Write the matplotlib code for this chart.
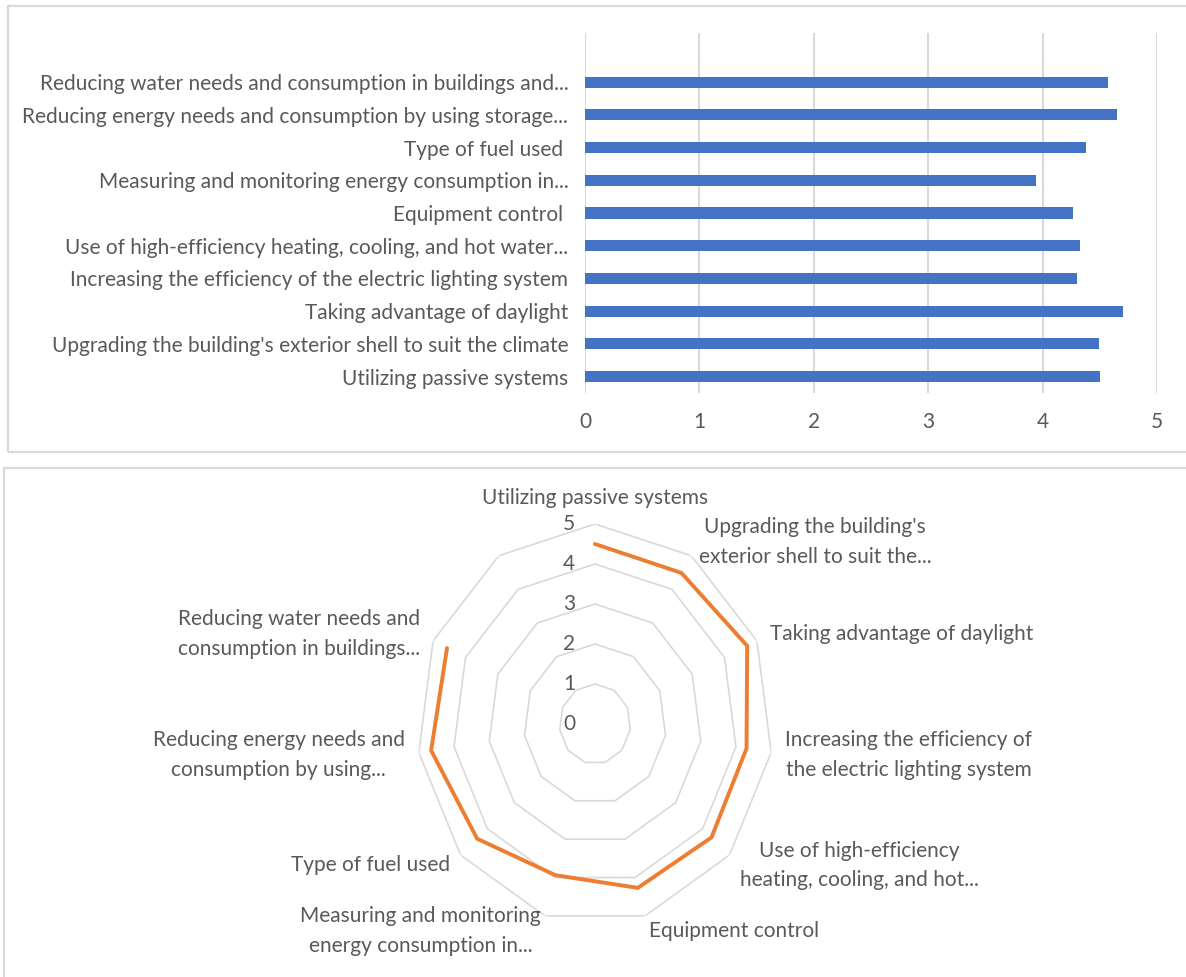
import numpy as np
import matplotlib
matplotlib.use("Agg")
import matplotlib.pyplot as plt
from matplotlib.patches import Rectangle

plt.rcParams['font.family'] = ['Lato', 'DejaVu Sans']

# data (the 11th category is blank in the source sheet)
categories = [
    "Utilizing passive systems",
    "Upgrading the building's exterior shell to suit the climate",
    "Taking advantage of daylight",
    "Increasing the efficiency of the electric lighting system",
    "Use of high-efficiency heating, cooling, and hot water...",
    "Equipment control ",
    "Measuring and monitoring energy consumption in...",
    "Type of fuel used ",
    "Reducing energy needs and consumption by using storage...",
    "Reducing water needs and consumption in buildings and...",
    "",
]
radar_labels = [
    "Utilizing passive systems",
    "Upgrading the building's\nexterior shell to suit the...",
    "Taking advantage of daylight",
    "Increasing the efficiency of\nthe electric lighting system",
    "Use of high-efficiency\nheating, cooling, and hot...",
    "Equipment control",
    "Measuring and monitoring\nenergy consumption in...",
    "Type of fuel used",
    "Reducing energy needs and\nconsumption by using...",
    "Reducing water needs and\nconsumption in buildings...",
    "",
]
scores = [4.50, 4.49, 4.70, 4.30, 4.33, 4.27, 3.94, 4.38, 4.65, 4.57, np.nan]
ticks = [0, 1, 2, 3, 4, 5]

text_col = '#595959'
grid_col = '#d9d9d9'
bar_col = '#4472C4'
line_col = '#ED7D31'
fs = 15

W, H = 1186, 977
fig = plt.figure(figsize=(W / 100, H / 100), dpi=100)

# panel borders
fig.add_artist(Rectangle((8 / W, 1 - 452 / H), 1.2, 446 / H, transform=fig.transFigure,
                         fill=False, ec=grid_col, lw=1.6))
fig.add_artist(Rectangle((4 / W, -0.2), 1.2, 0.2 + 1 - 468 / H, transform=fig.transFigure,
                         fill=False, ec=grid_col, lw=1.6))

# ---- bar chart ----
ax = fig.add_axes([585 / W, 1 - 393 / H, 572 / W, 360 / H])
y = np.arange(len(categories))
ax.barh(y, scores, height=0.34, color=bar_col, zorder=3)
ax.set_ylim(-0.5, len(categories) - 0.5)
ax.set_xlim(0, 5)
ax.set_xticks(ticks)
ax.set_yticks(y)
ax.set_yticklabels(categories)
ax.grid(axis='x', color=grid_col, lw=1.5, zorder=0)
ax.tick_params(length=0, labelsize=fs, colors=text_col)
ax.tick_params(axis='x', pad=14)
ax.tick_params(axis='y', pad=12)
for s in ax.spines.values():
    s.set_visible(False)

# ---- radar chart ----
n = len(categories)
theta = np.arange(n) * 2 * np.pi / n
rax = fig.add_axes([417 / W, 1 - 924 / H, 356 / W, 400 / H], projection='polar')
rax.set_aspect('auto')
rax.set_theta_offset(np.pi / 2)
rax.set_theta_direction(-1)
rax.set_ylim(0, 5)
rax.grid(False)
rax.set_xticks([])
rax.set_yticks([])
rax.spines['polar'].set_visible(False)
rax.patch.set_visible(False)

th_closed = np.append(theta, theta[0])
for lvl in ticks[1:]:
    rax.plot(th_closed, [lvl] * (n + 1), color=grid_col, lw=1.2, zorder=1)
for lvl in ticks:
    rax.annotate(str(lvl), xy=(0, lvl), xytext=(-26, 0), textcoords='offset pixels',
                 ha='center', va='center', fontsize=fs, color=text_col)

rax.plot(theta, scores, color=line_col, lw=2.8, zorder=3, solid_capstyle='round')

for t, lab in zip(theta, radar_labels):
    if not lab:
        continue
    ang = np.pi / 2 - t
    c = np.cos(ang)
    if c > 0.1:
        ha = 'left'
    elif c < -0.1:
        ha = 'right'
    else:
        ha = 'center'
    va = 'bottom' if np.sin(ang) > 0.95 else 'center'
    rax.text(t, 5.4, lab, ha=ha, va=va, multialignment='center', linespacing=1.6,
             fontsize=fs, color=text_col, clip_on=False)

fig.savefig('out.png', dpi=100)
